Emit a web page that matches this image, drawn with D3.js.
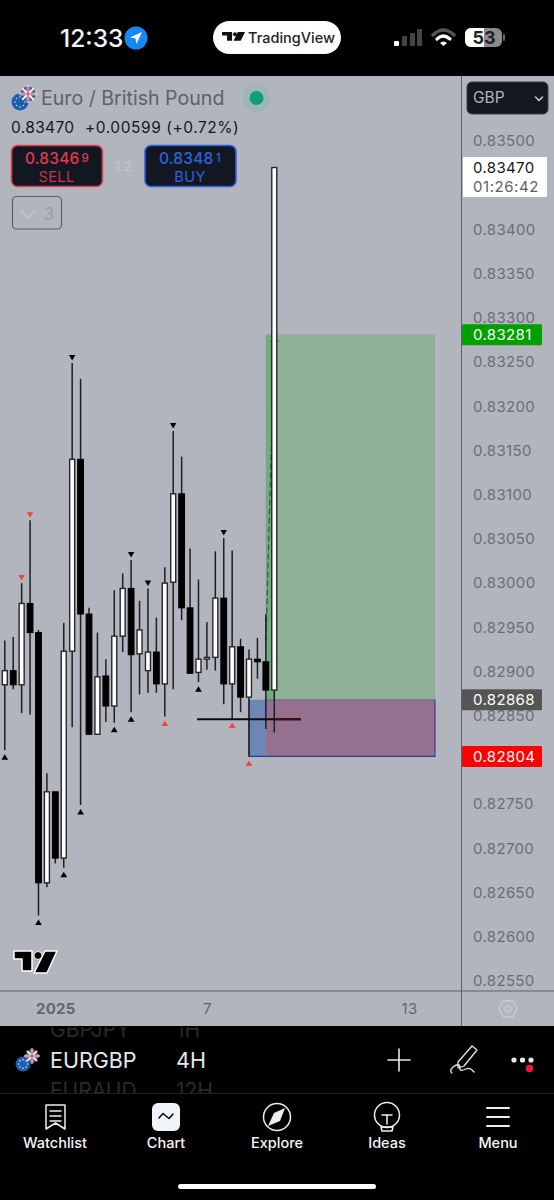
<!DOCTYPE html>
<html><head><meta charset="utf-8">
<script src="https://cdn.jsdelivr.net/npm/d3@7/dist/d3.min.js"></script>
<style>html,body{margin:0;padding:0;background:#000}svg{display:block}text{font-family:Inter,"Noto Sans",sans-serif}</style>
</head><body><div id="c"></div>
<script>
const opens  = [.82885,.82901,.82885,.82977,.82944,.82661,.82764,.82689,.82923,.83140,.82965,.82829,.82895,.82861,.82940,.82994,.82920,.82901,.82922,.82886,.83001,.83101,.82972,.82899,.82914,.82916,.82983,.82886,.82928,.82871,.82914,.82911,.82879];
const highs  = [.82935,.82939,.83000,.83071,.82947,.82785,.82764,.82955,.83249,.83231,.82972,.82944,.82914,.82992,.83011,.83026,.82980,.82994,.82961,.83018,.83172,.83143,.83039,.83004,.82956,.83036,.83051,.83037,.82937,.82925,.82938,.82965,.83470];
const lows   = [.82811,.82880,.82853,.82851,.82624,.82656,.82683,.82678,.82837,.82749,.82829,.82829,.82843,.82842,.82922,.82854,.82874,.82876,.82876,.82849,.82880,.82958,.82898,.82888,.82902,.82901,.82863,.82847,.82854,.82804,.82892,.82835,.82831];
const closes = [.82901,.82885,.82977,.82944,.82661,.82764,.82689,.82923,.83140,.82965,.82829,.82894,.82861,.82940,.82994,.82919,.82947,.82922,.82886,.83000,.83101,.82972,.82898,.82914,.82916,.82983,.82886,.82928,.82871,.82914,.82911,.82879,.83470];
const pivotHighBlack = [8,15,17,20,26];
const pivotHighRed   = [2,3];
const pivotLowBlack  = [0,4,7,9,13,15,23];
const pivotLowRed    = [19,27,29];
const priceTicks = [.835,.834,.8335,.833,.8325,.832,.8315,.831,.8305,.83,.8295,.829,.8285,.8275,.827,.8265,.826,.8255];
const timeTickIndex = [6,24,48];
const timeTickLabels = ["2025","7","13"];
const lastPrice = .8347, targetPrice = .83281, entryPrice = .82868, stopPrice = .82804, drawnLine = .82846;

const W=554,H=1200;
const bg="#b2b5be", grey="#5d606b";
const svg=d3.select("#c").append("svg").attr("width",W).attr("height",H);
const y=d3.scaleLinear().domain([.8255,.835]).range([981,141]);
const x=d3.scaleLinear().domain([0,48]).range([4.8,409]);
const T=(g,s,tx,ty,size,fill,o={})=>g.append("text").text(s).attr("x",tx).attr("y",ty).attr("font-size",size).attr("fill",fill)
  .attr("text-anchor",o.a||"start").attr("font-weight",o.w||400).attr("letter-spacing",o.ls||0).attr("dominant-baseline",o.db||"auto");
const R=(g,a,b,w,h,f,o={})=>g.append("rect").attr("x",a).attr("y",b).attr("width",w).attr("height",h).attr("fill",f).attr("rx",o.rx||0).attr("stroke",o.s||"none").attr("stroke-width",o.sw||1).attr("opacity",o.op==null?1:o.op);
const P=(g,d,f,s,sw)=>g.append("path").attr("d",d).attr("fill",f||"none").attr("stroke",s||"none").attr("stroke-width",sw||1).attr("stroke-linecap","round").attr("stroke-linejoin","round");

R(svg,0,0,W,H,"#000");
R(svg,0,76,W,950,bg);

// status bar
T(svg,"12:33",60,47,24.5,"#f5f5f5",{w:500});
svg.append("circle").attr("cx",136).attr("cy",38).attr("r",11.5).attr("fill","#1689f5");
P(svg,"M142,32 L130,37.5 L135.5,38.5 L136.5,44 Z","#fff");
R(svg,213,21,128,33,"#fff",{rx:16.5});
function tvLogo(g,tx,ty,k,fill){const l=g.append("g").attr("transform",`translate(${tx},${ty}) scale(${k})`);
  P(l,"M0,0 H14 V12 H7 V5 H0 Z",fill);l.append("circle").attr("cx",18).attr("cy",3).attr("r",2.8).attr("fill",fill);P(l,"M22,0 H32 L26,12 H16 Z",fill);return l;}
tvLogo(svg,222,32,.72,"#111");
T(svg,"TradingView",248,43,14.5,"#222",{w:500});
R(svg,394,41,5,5,"#fff",{rx:1});R(svg,402,36,5,10,"#444",{rx:1});R(svg,410,33,5,13,"#444",{rx:1});R(svg,417,29,5,17,"#444",{rx:1});
P(svg,"M433,35 Q443,25 454,35","none","#555",3.5);P(svg,"M437,39 Q443,33 450,39","none","#fff",3.2);P(svg,"M440,43 L443.5,46 L447,43 Q443.5,40 440,43 Z","#fff");
R(svg,465,28,37,19,"#8a8a8a",{rx:6});R(svg,465,28,19,19,"#fff",{rx:6});R(svg,477,28,7,19,"#fff");
R(svg,503,34,2,7,"#666",{rx:1});
T(svg,"53",484,44,18,"#222",{a:"middle",w:700});

// plot region
const plot=svg.append("g");
const tX0=x(29), tX1=435, eX=x(31);
R(plot,eX,y(targetPrice),tX1-eX,y(entryPrice)-y(targetPrice),"#8db097");
R(plot,eX,y(targetPrice),x(32)-eX,y(entryPrice)-y(targetPrice),"#6fae7c");
R(plot,eX,y(entryPrice),tX1-eX,y(stopPrice)-y(entryPrice),"#96708f");
R(plot,tX0,y(entryPrice),eX-tX0,y(stopPrice)-y(entryPrice),"#6c87b4");
plot.append("line").attr("x1",eX).attr("x2",tX1).attr("y1",y(entryPrice)).attr("y2",y(entryPrice)).attr("stroke","#666a70").attr("stroke-width",1);
plot.append("path").attr("d",`M${tX0},${y(entryPrice)}V${y(stopPrice)}H${tX1}V${y(entryPrice)}`).attr("fill","none").attr("stroke","#2d3a8a").attr("stroke-width",1.1);
plot.append("line").attr("x1",x(32)).attr("y1",y(targetPrice)+3).attr("x2",eX).attr("y2",y(.82930)).attr("stroke","#2c5a3a").attr("stroke-width",1.2).attr("stroke-dasharray","6 3");
P(plot,`M${x(32)-4},${y(targetPrice)+7} L${x(32)},${y(targetPrice)+3} L${x(32)+4},${y(targetPrice)+7}`,"none","#3c5c46",1);

// candles
const idx=d3.range(opens.length);
plot.selectAll("line.w").data(idx).join("line").attr("class","w")
  .attr("x1",x).attr("x2",x).attr("y1",i=>y(highs[i])).attr("y2",i=>y(lows[i]))
  .attr("stroke","#1e1f24").attr("stroke-width",1.5);
plot.selectAll("rect.b").data(idx).join("rect").attr("class","b")
  .attr("x",i=>x(i)-(closes[i]>=opens[i]?2.5:2.9)).attr("width",i=>closes[i]>=opens[i]?5:5.8)
  .attr("y",i=>y(Math.max(opens[i],closes[i])))
  .attr("height",i=>Math.max(1.5,Math.abs(y(opens[i])-y(closes[i]))))
  .attr("fill",i=>closes[i]>=opens[i]?"#fff":"#000")
  .attr("stroke",i=>closes[i]>=opens[i]?"#26272b":"#000").attr("stroke-width",i=>closes[i]>=opens[i]?1.4:1);
const tri=(g,i,up,fill)=>{const cx=x(i),a=up?y(lows[i])+4:y(highs[i])-7;
  g.append("path").attr("d",up?`M${cx},${a} L${cx+3.4},${a+5.5} L${cx-3.4},${a+5.5} Z`:`M${cx-3.2},${a-1} L${cx+3.2},${a-1} L${cx},${a+4.5} Z`).attr("fill",fill);};
pivotHighBlack.forEach(i=>tri(plot,i,false,"#000"));
pivotHighRed.forEach(i=>tri(plot,i,false,"#ef4444"));
pivotLowBlack.forEach(i=>tri(plot,i,true,"#000"));
pivotLowRed.forEach(i=>tri(plot,i,true,"#ef4444"));
plot.append("line").attr("x1",197).attr("x2",301).attr("y1",y(drawnLine)).attr("y2",y(drawnLine)).attr("stroke","#0a0a0e").attr("stroke-width",2);
plot.append("line").attr("x1",275).attr("x2",301).attr("y1",y(drawnLine)).attr("y2",y(drawnLine)).attr("stroke","#3a0c14").attr("stroke-width",2);

// watermark logo
const lg=svg.append("g").attr("transform","translate(14,951)");
P(lg,"M0,0 H18 V20 H8 V8 H0 Z","#000","#fff",1.5);lg.append("circle").attr("cx",24).attr("cy",4.5).attr("r",4).attr("fill","#000").attr("stroke","#fff");P(lg,"M31,0 H43 L33,22 H20 Z","#000","#fff",1.5);

// axes frame
svg.append("line").attr("x1",0).attr("x2",W).attr("y1",991).attr("y2",991).attr("stroke","#5d606b").attr("stroke-width",1);
svg.append("line").attr("x1",461.5).attr("x2",461.5).attr("y1",76).attr("y2",1026).attr("stroke","#5d606b").attr("stroke-width",1);

// price axis
const yAxis=svg.append("g").attr("transform","translate(473,0)").call(d3.axisRight(y).tickValues(priceTicks).tickFormat(d3.format(".5f")).tickSize(0).tickPadding(0));
yAxis.select(".domain").remove();
yAxis.selectAll("text").attr("font-size",15).attr("fill","#6a6d78").attr("letter-spacing",.35).attr("font-family",'Inter,"Noto Sans",sans-serif');

// time axis
const xAxis=svg.append("g").attr("transform","translate(0,1009)").call(d3.axisBottom(x).tickValues(timeTickIndex).tickFormat((d,i)=>timeTickLabels[i]).tickSize(0).tickPadding(0));
xAxis.select(".domain").remove();
xAxis.selectAll("text").attr("y",0).attr("dy","0.36em").attr("font-size",15).attr("fill","#62656f").attr("font-family",'Inter,"Noto Sans",sans-serif').attr("font-weight",(d,i)=>i==0?700:400).attr("letter-spacing",.3);
P(svg,"M499,1009 L503.5,1001 H512.5 L517,1009 L512.5,1017 H503.5 Z","none","#c9cbd1",1.3);
svg.append("circle").attr("cx",508).attr("cy",1009).attr("r",3).attr("fill","none").attr("stroke","#c9cbd1").attr("stroke-width",1.3);

// price tags
R(svg,463,157,84,40,"#fff");
T(svg,"0.83470",473,173,15,"#131722",{ls:.35});
T(svg,"01:26:42",473,191.5,15,"#5d606b",{ls:.55});
[[targetPrice,"#00a000"],[entryPrice,"#555555"],[stopPrice,"#ff0000"]].forEach(([v,c])=>{
  R(svg,462,y(v)-10.5,80,21,c,{rx:1});
  T(svg,d3.format(".5f")(v),473,y(v)+5.5,15,"#fff",{ls:.35});
});
// currency
R(svg,467,82,81,32,"#131722",{rx:5,s:"#3c3f4a",sw:1});
T(svg,"GBP",473,103,15.5,"#b2b5be");
P(svg,"M535.5,97 L539,100.5 L542.5,97","none","#c8cad0",1.5);

// legend
const eu=(g,cx,cy,r)=>{g.append("circle").attr("cx",cx).attr("cy",cy).attr("r",r).attr("fill","#1b5fae");
  d3.range(8).forEach(i=>g.append("circle").attr("cx",cx+r*.58*Math.cos(i*Math.PI/4)).attr("cy",cy+r*.58*Math.sin(i*Math.PI/4)).attr("r",.8).attr("fill","#d8dce8"));};
const uk=(g,cx,cy,r)=>{g.append("circle").attr("cx",cx).attr("cy",cy).attr("r",r).attr("fill","#3d5a9e");
  P(g,`M${cx-r*.7},${cy-r*.7} L${cx+r*.7},${cy+r*.7} M${cx-r*.7},${cy+r*.7} L${cx+r*.7},${cy-r*.7}`,"none","#f5f5f7",1.8);
  P(g,`M${cx-r},${cy} H${cx+r} M${cx},${cy-r} V${cy+r}`,"none","#f5f5f7",2.6);
  P(g,`M${cx-r},${cy} H${cx+r} M${cx},${cy-r} V${cy+r}`,"none","#d4304a",1.2);};
eu(svg,20,102,8.5);uk(svg,28,94,7.5);
T(svg,"Euro / British Pound",41,105,19.6,"#5d606b");
svg.append("circle").attr("cx",256.5).attr("cy",98).attr("r",14).attr("fill","#9fb6b4");
svg.append("circle").attr("cx",256.5).attr("cy",98).attr("r",7).attr("fill","#0f9d7f");
T(svg,"0.83470",11,132.5,15.5,"#131722",{ls:.35});
T(svg,"+0.00599 (+0.72%)",85,132.5,15.5,"#131722",{ls:.55});
R(svg,11.5,145.5,91,41,"#131722",{rx:6,s:"#e0404f",sw:1.6});
R(svg,145,145.5,91,41,"#131722",{rx:6,s:"#2f5fe0",sw:1.6});
T(svg,"0.8346",25,164,15.5,"#e23a4c",{w:500,ls:.2});
T(svg,"9",81.5,162,11.5,"#e23a4c",{w:500});
T(svg,"SELL",56.5,182,14.5,"#c93446",{a:"middle",ls:.4});
T(svg,"0.8348",159,164,15.5,"#2f62e0",{w:500,ls:.2});
T(svg,"1",216,162,11.5,"#2f62e0",{w:500});
T(svg,"BUY",190,182,14.5,"#2f62e0",{a:"middle",ls:.4});
T(svg,"1.2",123.5,171,13,"#c5c7ce",{a:"middle"});
R(svg,12.5,196.5,49,32.5,"none",{rx:4,s:"#5d606b",sw:1.2});
P(svg,"M21,211 L28,218 L35,211","none","#c7c9cf",1.5);
T(svg,"3",49,220,17,"#9a9da6",{a:"middle"});

// bottom toolbar
const bar=svg.append("g");
const clip=svg.append("defs").append("clipPath").attr("id","cl");clip.append("rect").attr("x",0).attr("y",1027).attr("width",W).attr("height",66);
const gh=bar.append("g").attr("clip-path","url(#cl)");
T(gh,"GBPJPY",50,1037,21,"#2a2a2a");T(gh,"1H",176,1037,21,"#2a2a2a");
T(gh,"EURAUD",50,1098,21,"#2a2a2a");T(gh,"12H",176,1098,21,"#2a2a2a");
bar.append("line").attr("x1",0).attr("x2",W).attr("y1",1093.5).attr("y2",1093.5).attr("stroke","#222");
eu(bar,23,1064,7.5);uk(bar,32,1056,6.5);
T(bar,"EURGBP",50,1068,21.5,"#e8e8ea");
T(bar,"4H",176,1068,21.5,"#e8e8ea");
P(bar,"M399,1049 V1071 M388,1060 H410","none","#e8e8ea",1.6);
P(bar,"M472,1046 L477,1050 L464,1066 L458,1068 L458,1062 Z M452,1073 Q449,1071 453,1067 Q460,1062 460,1068 Q459,1072 466,1069 Q470,1067 474,1072","none","#e8e8ea",1.3);
[514,522.5,531].forEach(c=>bar.append("circle").attr("cx",c).attr("cy",1060).attr("r",2.6).attr("fill","#e8e8ea"));
bar.append("circle").attr("cx",529.5).attr("cy",1068.5).attr("r",3.8).attr("fill","#f0143c");
const nav=[["Watchlist",55],["Chart",166],["Explore",277],["Ideas",387],["Menu",498]];
nav.forEach(([s,c])=>T(bar,s,c,1148,14.5,"#f5f5f7",{a:"middle",w:500}));
P(bar,"M46,1105 H65 V1129 L55.5,1123 L46,1129 Z M50,1111 H61 M50,1116 H61 M50,1121 H61","none","#eee",1.5);
R(bar,152,1103,28,28,"#f0f3fa",{rx:6});
P(bar,"M159,1118 L163,1113.5 L169,1118.5 L173,1114","none","#111",1.6);
bar.append("circle").attr("cx",277).attr("cy",1117).attr("r",13.5).attr("fill","none").attr("stroke","#eee").attr("stroke-width",1.5);
P(bar,"M285,1108 L280,1121 L268,1126 L274,1113 Z","#eee");
bar.append("circle").attr("cx",387).attr("cy",1115).attr("r",12.5).attr("fill","none").attr("stroke","#eee").attr("stroke-width",1.5);
P(bar,"M382,1115 H392 M387,1115 V1124 M381,1127 H393 L392,1131 H382 Z","none","#eee",1.5);
P(bar,"M487,1108 H509 M487,1117 H509 M487,1126 H509","none","#eee",2);
R(bar,178,1184,198,5,"#fff",{rx:2.5});
</script></body></html>
